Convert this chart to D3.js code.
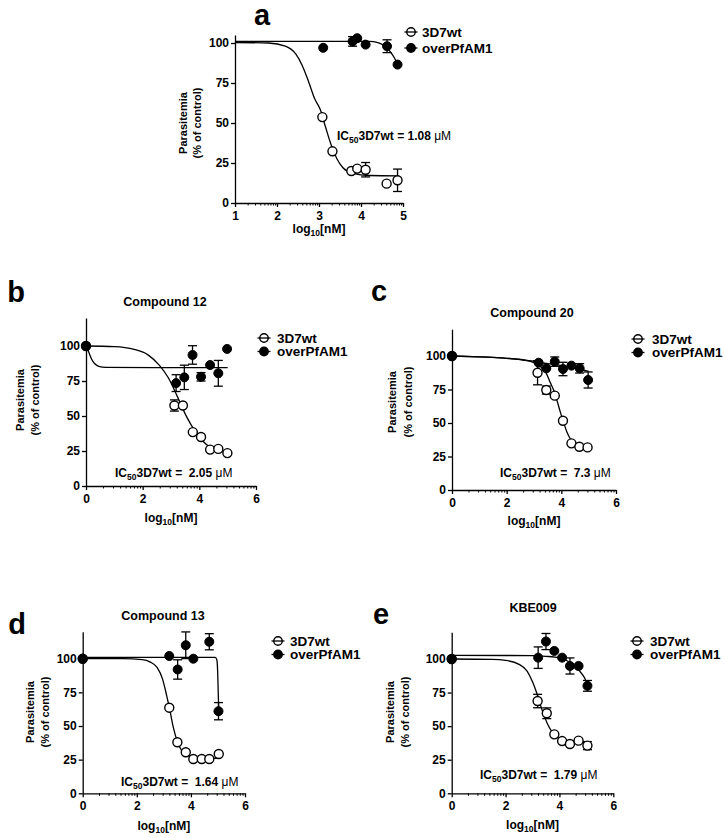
<!DOCTYPE html>
<html><head><meta charset="utf-8">
<script src="https://cdn.jsdelivr.net/npm/d3@7"></script>
<style>
body{margin:0;background:#fff;}
svg{display:block;font-family:"Liberation Sans",Arial,sans-serif;}
.axis path,.axis line{stroke:#000;stroke-width:1.3px;fill:none;}
.axis.minor line{stroke-width:1px;}
.axis text{font-size:12px;font-weight:bold;fill:#000;font-family:"Liberation Sans",Arial,sans-serif;}
text{white-space:pre;}
</style></head><body>
<svg id="chart" width="725" height="838"></svg>
<script>
// ---------- data ----------
const seriesNames = ["3D7wt", "overPfAM1"];
const yTicks = [0, 25, 50, 75, 100];
const xTicksA = [1, 2, 3, 4, 5];
const xTicksBE = [0, 2, 4, 6];
const titles = ["", "Compound 12", "Compound 20", "Compound 13", "KBE009"];
const ic50Values = ["1.08", " 2.05", " 7.3", " 1.64", " 1.79"];

// panel a
const aWtX = [3.08, 3.32, 3.77, 3.91, 4.11, 4.61, 4.87];
const aWtY = [53.7, 32.3, 20, 21.5, 20.8, 12.1, 14.2];
const aWtErr = [0, 0, 0, 0, 4.5, 0, 7];
const aOvX = [3.10, 3.80, 3.91, 4.11, 4.62, 4.87];
const aOvY = [97, 101, 103, 99, 98, 86.5];
const aOvErr = [0, 3, 0, 0, 4, 0];
const aWtFitX = [1, 1.8, 2.2, 2.45, 2.6, 2.75, 2.9, 3.03, 3.15, 3.28, 3.42, 3.57, 3.8, 4.2, 4.9];
const aWtFitY = [100.3, 100, 98, 93, 86, 76, 65, 58.5, 48, 37, 28, 22, 18.5, 17.2, 17];
const aOvFitX = [1, 4.2, 4.4, 4.55, 4.7, 4.8, 4.88];
const aOvFitY = [101, 101, 100.3, 98.5, 94.5, 90.5, 86];

// panel b (Compound 12)
const bWtX = [0, 3.12, 3.42, 3.77, 4.06, 4.38, 4.67, 4.99];
const bWtY = [100, 57.5, 57.5, 38.5, 35, 26, 26.5, 23.5];
const bWtErr = [0, 4, 0, 0, 0, 0, 0, 0];
const bOvX = [0, 3.18, 3.47, 3.76, 4.06, 4.38, 4.67, 4.98];
const bOvY = [100, 73.5, 77.6, 93.6, 78, 86.4, 80.5, 97.9];
const bOvErr = [0, 6, 8.7, 6.6, 3, 0, 9.2, 0];
const bWtFitX = [0, 1, 1.7, 2.2, 2.6, 2.9, 3.1, 3.31, 3.5, 3.7, 3.9, 4.1, 4.4, 4.7, 5.0];
const bWtFitY = [100, 99.6, 97.6, 93.5, 86, 77.5, 69.5, 60, 51.5, 44, 37.5, 32.5, 27.5, 25, 23.5];
const bOvFitX = [0, 0.1, 0.2, 0.3, 0.45, 0.7, 5.0];
const bOvFitY = [100, 95.5, 90.5, 87.5, 85.5, 84.7, 84.5];

// panel c (Compound 20)
const cWtX = [0, 3.13, 3.45, 3.76, 4.06, 4.37, 4.66, 4.96];
const cWtY = [100, 87.5, 74.6, 70.4, 51.7, 34.8, 32.3, 31.8];
const cWtErr = [0, 9, 3, 0, 0, 0, 0, 0];
const cOvX = [0, 3.17, 3.45, 3.76, 4.06, 4.37, 4.67, 4.98];
const cOvY = [100, 95, 90.8, 95.8, 90.3, 92.8, 90.8, 82.1];
const cOvErr = [0, 0, 0, 3.5, 5, 0, 3.5, 6];
const cWtFitX = [0, 1, 1.5, 2.0, 2.6, 3.0, 3.25, 3.45, 3.6, 3.73, 3.86, 3.95, 4.09, 4.2, 4.35, 4.55, 4.75, 5.0];
const cWtFitY = [100, 99.4, 99, 98.3, 97, 95, 92, 87, 80, 74, 65.5, 59, 50, 43.5, 37.5, 34, 32.5, 31.5];
const cOvFitX = [0, 1, 2, 2.7, 3.0, 3.4, 3.9, 4.4, 4.7, 5.0];
const cOvFitY = [100, 99.3, 98.3, 97, 96, 94.6, 93.2, 91.5, 90.2, 88.5];

// panel d (Compound 13)
const dWtX = [0, 3.2, 3.5, 3.81, 4.09, 4.4, 4.68, 5.03];
const dWtY = [100, 63.6, 37.9, 30.5, 25.5, 25.5, 25.5, 29.2];
const dWtErr = [0, 0, 0, 0, 0, 0, 0, 0];
const dOvX = [0, 3.2, 3.51, 3.81, 4.09, 4.68, 5.02];
const dOvY = [100, 102, 92, 110, 100, 112.6, 61];
const dOvErr = [0, 0, 7.2, 9.9, 0, 6, 6.4];
const dWtFitX = [0, 1.5, 2.2, 2.5, 2.75, 2.95, 3.1, 3.21, 3.35, 3.5, 3.65, 3.85, 4.1, 4.5, 5.05];
const dWtFitY = [100, 100, 99.3, 97.5, 93.5, 85, 73, 63, 49, 38.5, 32, 28.5, 26.8, 26.2, 26];
const dOvFitX = [0, 4.9, 4.96, 4.99, 5.01, 5.03];
const dOvFitY = [101, 101, 99, 90, 75, 61];

// panel e (KBE009)
const eWtX = [0, 3.19, 3.53, 3.81, 4.1, 4.39, 4.71, 5.04];
const eWtY = [100, 68.7, 59.6, 43.9, 38.9, 36.7, 39.2, 35.5];
const eWtErr = [0, 5, 4, 0, 0, 0, 0, 3];
const eOvX = [0, 3.21, 3.5, 3.81, 4.1, 4.39, 4.71, 5.04];
const eOvY = [100, 101, 113, 106, 101, 94.8, 94.8, 80];
const eOvErr = [0, 8, 6, 0, 0, 6, 0, 4];
const eWtFitX = [0, 1.5, 2.0, 2.5, 2.8, 3.0, 3.15, 3.25, 3.4, 3.55, 3.7, 3.9, 4.1, 4.5, 5.05];
const eWtFitY = [100, 99.7, 99, 96, 91, 83, 75, 68.7, 59.5, 52, 46.5, 42, 40, 38.3, 37.6];
const eOvFitX = [0, 3.0, 3.5, 4.0, 4.3, 4.55, 4.75, 4.9, 5.05];
const eOvFitY = [102.7, 102.5, 102, 100.8, 98.5, 95, 91, 87, 81];

// ---------- layout ----------
const panels = [
  {letter:"a", lx:262, ly:25, title:titles[0], tx:0, ty:0,
   left:235, right:403, y0:203, y100:43, yTop:105, xDomain:[1,5], xTicks:xTicksA,
   ylab:[187,201,123], xlabY:233, legX:411, legTX:422, legY:[32,48], icX:337, icY:140, ic:ic50Values[0],
   wt:[aWtX,aWtY,aWtErr,aWtFitX,aWtFitY], ov:[aOvX,aOvY,aOvErr,aOvFitX,aOvFitY]},
  {letter:"b", lx:16, ly:302, title:titles[1], tx:165, ty:306,
   left:86, right:256, y0:486, y100:346, yTop:120, xDomain:[0,6], xTicks:xTicksBE,
   ylab:[24,39,400], xlabY:522, legX:264, legTX:277, legY:[338,351.5], icX:115, icY:477, ic:ic50Values[1],
   wt:[bWtX,bWtY,bWtErr,bWtFitX,bWtFitY], ov:[bOvX,bOvY,bOvErr,bOvFitX,bOvFitY]},
  {letter:"c", lx:379, ly:301, title:titles[2], tx:532, ty:317,
   left:452, right:616, y0:490, y100:356, yTop:120, xDomain:[0,6], xTicks:xTicksBE,
   ylab:[396,412,402], xlabY:525, legX:638, legTX:652, legY:[339,352.5], icX:500, icY:476.5, ic:ic50Values[2],
   wt:[cWtX,cWtY,cWtErr,cWtFitX,cWtFitY], ov:[cOvX,cOvY,cOvErr,cOvFitX,cOvFitY]},
  {letter:"d", lx:17, ly:634, title:titles[3], tx:163, ty:620,
   left:82.7, right:245, y0:793.3, y100:658.7, yTop:120, xDomain:[0,6], xTicks:xTicksBE,
   ylab:[34,49,712], xlabY:830, legX:278, legTX:290, legY:[641,654.5], icX:121, icY:786, ic:ic50Values[3],
   wt:[dWtX,dWtY,dWtErr,dWtFitX,dWtFitY], ov:[dOvX,dOvY,dOvErr,dOvFitX,dOvFitY]},
  {letter:"e", lx:381, ly:624, title:titles[4], tx:533, ty:612,
   left:451.7, right:613.3, y0:793.3, y100:659, yTop:120, xDomain:[0,6], xTicks:xTicksBE,
   ylab:[394,409,712], xlabY:829, legX:637, legTX:650, legY:[641,654.5], icX:480, icY:778.5, ic:ic50Values[4],
   wt:[eWtX,eWtY,eWtErr,eWtFitX,eWtFitY], ov:[eOvX,eOvY,eOvErr,eOvFitX,eOvFitY]}
];

const svg = d3.select("#chart");
const R = 4.5;

function drawPanel(p) {
  const g = svg.append("g");
  const pxPer = (p.y0 - p.y100) / 100;
  const x = d3.scaleLinear().domain(p.xDomain).range([p.left, p.right]);
  const y = d3.scaleLinear().domain([0, p.yTop]).range([p.y0, p.y0 - p.yTop * pxPer]);

  // panel letter
  g.append("text").attr("x", p.lx).attr("y", p.ly).attr("text-anchor", "middle")
    .style("font-size", "29px").style("font-weight", "bold").text(p.letter);
  if (p.title) {
    g.append("text").attr("x", p.tx).attr("y", p.ty).attr("text-anchor", "middle")
      .style("font-size", "12.5px").style("font-weight", "bold").text(p.title);
  }

  // axes
  g.append("g").attr("class", "axis").attr("transform", `translate(${p.left},0)`)
    .call(d3.axisLeft(y).tickValues(yTicks).tickSize(4).tickSizeOuter(0).tickPadding(2).tickFormat(d3.format("d")));
  g.append("g").attr("class", "axis").attr("transform", `translate(0,${p.y0})`)
    .call(d3.axisBottom(x).tickValues(p.xTicks).tickSize(4).tickSizeOuter(0).tickPadding(4).tickFormat(d3.format("d")));
  const minors = [];
  for (let i = 0; i < p.xTicks.length - 1; i++) {
    const a = p.xTicks[i], step = p.xTicks[i + 1] - a;
    for (let k = 2; k <= 9; k++) minors.push(a + step * Math.log10(k));
  }
  const mg = g.append("g").attr("class", "axis minor").attr("transform", `translate(0,${p.y0})`)
    .call(d3.axisBottom(x).tickValues(minors).tickSize(2.5).tickFormat(""));
  mg.select(".domain").remove();

  // axis labels
  g.append("text").attr("transform", `translate(${p.ylab[0]},${p.ylab[2]}) rotate(-90)`)
    .attr("text-anchor", "middle").style("font-size", "11px").style("font-weight", "bold").text("Parasitemia");
  g.append("text").attr("transform", `translate(${p.ylab[1]},${p.ylab[2]}) rotate(-90)`)
    .attr("text-anchor", "middle").style("font-size", "11px").style("font-weight", "bold").text("(% of control)");
  const xl = g.append("text").attr("x", (p.left + p.right) / 2).attr("y", p.xlabY)
    .attr("text-anchor", "middle").style("font-size", "12px").style("font-weight", "bold");
  xl.append("tspan").text("log");
  xl.append("tspan").attr("dy", 3).style("font-size", "8.5px").text("10");
  xl.append("tspan").attr("dy", -3).text("[nM]");

  // fitted curves
  const line = d3.line().x(d => x(d[0])).y(d => y(d[1])).curve(d3.curveMonotoneX);
  [p.wt, p.ov].forEach(s => {
    const pts = s[3].map((v, i) => [v, s[4][i]]);
    g.append("path").attr("d", line(pts)).attr("fill", "none").attr("stroke", "#000").attr("stroke-width", 1.3);
  });

  // error bars
  [p.wt, p.ov].forEach(s => {
    s[0].forEach((xv, i) => {
      const e = s[2][i];
      if (!e) return;
      const cx = x(xv), yt = y(s[1][i] + e), yb = y(s[1][i] - e);
      g.append("line").attr("x1", cx).attr("x2", cx).attr("y1", yt).attr("y2", yb).attr("stroke", "#000").attr("stroke-width", 1.3);
      [yt, yb].forEach(yy => g.append("line").attr("x1", cx - 4.5).attr("x2", cx + 4.5).attr("y1", yy).attr("y2", yy)
        .attr("stroke", "#000").attr("stroke-width", 1.3));
    });
  });

  // markers
  g.selectAll(null).data(p.wt[0].map((v, i) => [v, p.wt[1][i]])).enter().append("circle")
    .attr("cx", d => x(d[0])).attr("cy", d => y(d[1])).attr("r", R)
    .attr("fill", "#fff").attr("stroke", "#000").attr("stroke-width", 1.4);
  g.selectAll(null).data(p.ov[0].map((v, i) => [v, p.ov[1][i]])).enter().append("circle")
    .attr("cx", d => x(d[0])).attr("cy", d => y(d[1])).attr("r", R)
    .attr("fill", "#000").attr("stroke", "#000").attr("stroke-width", 1);

  // legend
  seriesNames.forEach((name, i) => {
    const ly = p.legY[i];
    g.append("line").attr("x1", p.legX - 6.5).attr("x2", p.legX + 6.5).attr("y1", ly).attr("y2", ly)
      .attr("stroke", "#000").attr("stroke-width", 1.3);
    g.append("circle").attr("cx", p.legX).attr("cy", ly).attr("r", 4.2)
      .attr("fill", i === 0 ? "none" : "#000").attr("stroke", "#000").attr("stroke-width", 1.4);
    g.append("text").attr("x", p.legTX).attr("y", ly).attr("dy", "0.36em")
      .style("font-size", "13.5px").style("font-weight", "bold").text(name);
  });

  // IC50 annotation
  const ic = g.append("text").attr("x", p.icX).attr("y", p.icY)
    .style("font-size", "12px").style("font-weight", "bold");
  ic.append("tspan").text("IC");
  ic.append("tspan").attr("dy", 3).style("font-size", "8.5px").text("50");
  ic.append("tspan").attr("dy", -3).text("3D7wt = " + p.ic + " ");
  ic.append("tspan").style("font-weight", "normal").text("μM");
}

panels.forEach(drawPanel);
</script>
</body></html>
